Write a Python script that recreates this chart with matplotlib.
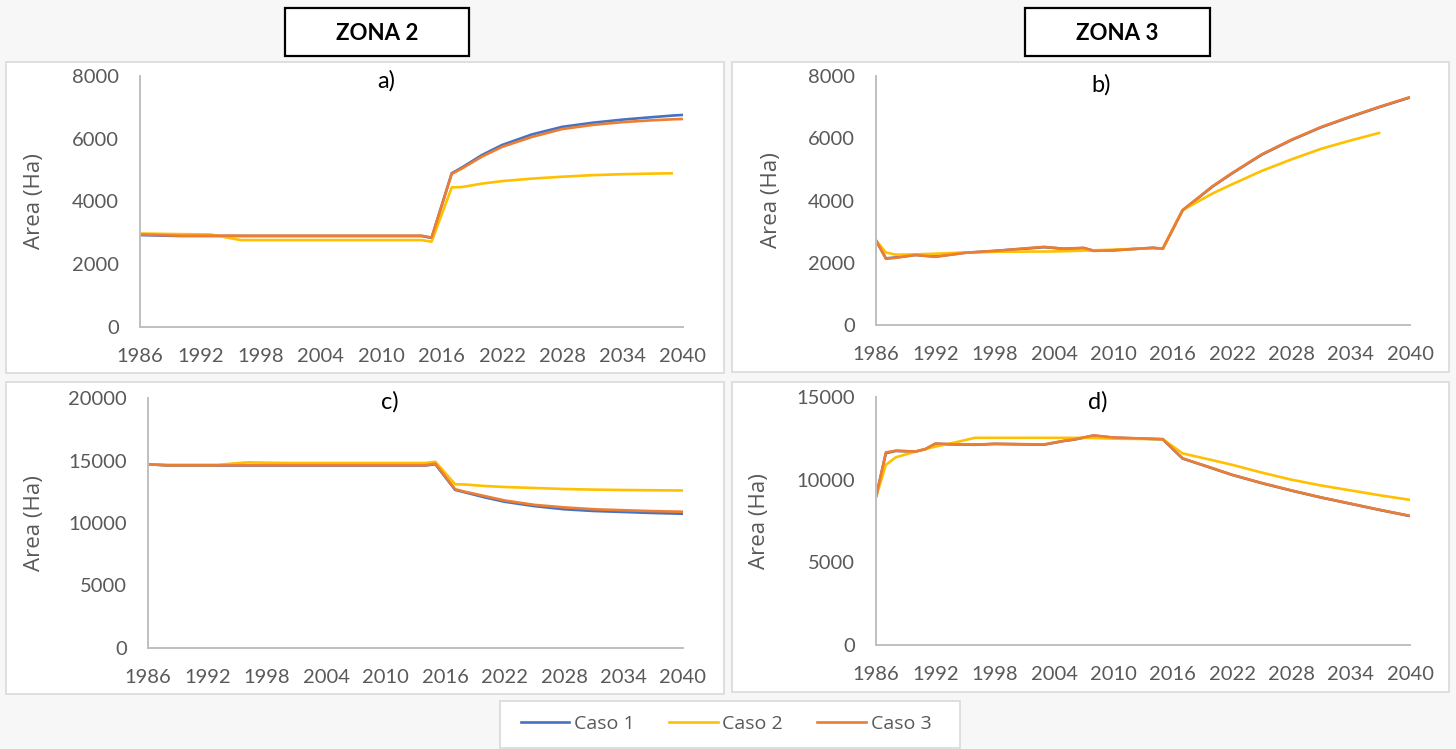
import numpy as np
import matplotlib
matplotlib.use("Agg")
import matplotlib.pyplot as plt
from matplotlib.patches import Rectangle
from matplotlib.lines import Line2D

nan = np.nan

# ---- data -------------------------------------------------------------
case_labels = ["Caso 1", "Caso 2", "Caso 3"]
case_colors = ["#4472C4", "#FFC000", "#ED7D31"]
zone_titles = ["ZONA 2", "ZONA 3"]
panel_tags = ["a)", "b)", "c)", "d)"]
x_ticks = [1986, 1992, 1998, 2004, 2010, 2016, 2022, 2028, 2034, 2040]

years_a = [1986, 1990, 1993, 1996, 2000, 2005, 2010, 2014, 2015, 2017, 2018,
           2020, 2022, 2025, 2028, 2031, 2034, 2037, 2039, 2040]
caso1_a = [2930, 2900, 2900, 2900, 2900, 2900, 2900, 2900, 2840, 4900, 5080,
           5480, 5800, 6140, 6380, 6510, 6610, 6690, 6740, 6760]
caso2_a = [2980, 2960, 2950, 2770, 2770, 2770, 2770, 2770, 2720, 4450, 4460,
           4570, 4650, 4730, 4790, 4840, 4870, 4890, 4900, nan]
caso3_a = [2950, 2910, 2910, 2910, 2910, 2910, 2910, 2910, 2850, 4880, 5050,
           5430, 5740, 6060, 6310, 6440, 6530, 6590, 6620, 6630]

years_b = [1986, 1987, 1988, 1990, 1992, 1995, 1998, 2001, 2003, 2005, 2007,
           2008, 2010, 2014, 2015, 2017, 2020, 2022, 2025, 2028, 2031, 2034,
           2037, 2040]
caso1_b = [2720, 2140, 2170, 2250, 2200, 2320, 2380, 2450, 2500, 2450, 2470,
           2390, 2400, 2480, 2450, 3680, 4440, 4870, 5470, 5940, 6350, 6690,
           7010, 7310]
caso2_b = [2720, 2330, 2260, 2270, 2290, 2330, 2350, 2360, 2360, 2370, 2390,
           2400, 2420, 2470, 2450, 3690, 4220, 4520, 4950, 5320, 5660, 5930,
           6180, nan]
caso3_b = [2720, 2130, 2160, 2250, 2190, 2320, 2380, 2460, 2510, 2450, 2480,
           2380, 2400, 2480, 2450, 3690, 4450, 4880, 5480, 5950, 6360, 6700,
           7020, 7320]

years_c = [1986, 1988, 1993, 1996, 2000, 2005, 2010, 2014, 2015, 2017, 2018,
           2020, 2022, 2025, 2028, 2031, 2034, 2037, 2040]
caso1_c = [14700, 14600, 14600, 14600, 14600, 14600, 14600, 14600, 14700,
           12650, 12450, 12050, 11700, 11350, 11100, 10960, 10880, 10800, 10740]
caso2_c = [14700, 14650, 14650, 14850, 14800, 14800, 14800, 14800, 14900,
           13100, 13080, 12960, 12880, 12800, 12720, 12670, 12640, 12620, 12600]
caso3_c = [14700, 14620, 14620, 14620, 14620, 14620, 14620, 14620, 14750,
           12700, 12500, 12150, 11800, 11450, 11250, 11100, 11020, 10950, 10900]

years_d = [1986, 1987, 1988, 1990, 1991, 1992, 1994, 1996, 1998, 2003, 2005,
           2006, 2008, 2010, 2015, 2017, 2020, 2022, 2025, 2028, 2031, 2034,
           2037, 2040]
caso1_d = [8950, 11600, 11740, 11700, 11850, 12170, 12130, 12110, 12160, 12120,
           12340, 12420, 12660, 12540, 12440, 11280, 10690, 10290, 9790, 9340,
           8920, 8540, 8160, 7800]
caso2_d = [8950, 10900, 11350, 11700, 11850, 12000, 12250, 12530, 12530, 12530,
           12530, 12530, 12520, 12480, 12450, 11590, 11180, 10900, 10430, 10000,
           9650, 9350, 9050, 8780]
caso3_d = [8950, 11650, 11750, 11700, 11850, 12180, 12140, 12120, 12170, 12130,
           12350, 12430, 12680, 12550, 12450, 11290, 10700, 10300, 9800, 9350,
           8930, 8550, 8170, 7810]

panels = [
    (years_a, [caso1_a, caso2_a, caso3_a], 8000, 2000),
    (years_b, [caso1_b, caso2_b, caso3_b], 8000, 2000),
    (years_c, [caso1_c, caso2_c, caso3_c], 20000, 5000),
    (years_d, [caso1_d, caso2_d, caso3_d], 15000, 5000),
]

# ---- layout (pixel units) ---------------------------------------------
W, H = 1456, 749
fig = plt.figure(figsize=(W / 100, H / 100), dpi=100, facecolor="#f7f7f7")

TICK_FONT = "Lato"
LABEL_FONT = "Open Sans"
GRAY = "#595959"


def fig_rect(x0, y0, x1, y1):
    return [x0 / W, 1 - y1 / H, (x1 - x0) / W, (y1 - y0) / H]


def add_box(x0, y0, x1, y1, face, edge, lw):
    r = Rectangle((x0 / W, 1 - y1 / H), (x1 - x0) / W, (y1 - y0) / H,
                  transform=fig.transFigure, facecolor=face, edgecolor=edge,
                  linewidth=lw, zorder=-1)
    fig.patches.append(r)


frames = [(6, 62, 724, 373), (732, 62, 1449, 372),
          (6, 382, 724, 694), (732, 382, 1449, 692)]
axes_px = [(140, 76, 683, 327), (876, 76, 1410, 325),
           (148, 398, 683, 648), (876, 397, 1410, 645)]
ylabel_x = [45, 782, 45, 770]
tag_pos = [(386, 81), (1101, 85), (390, 402), (1098, 402)]

for fr in frames:
    add_box(*fr, face="white", edge="#d9d9d9", lw=1.2)

for (years, series, ymax, ystep), (x0, y0, x1, y1), ylx, (tx, ty), tag in zip(
        panels, axes_px, ylabel_x, tag_pos, panel_tags):
    ax = fig.add_axes(fig_rect(x0, y0, x1, y1))
    ax.set_facecolor("none")
    for vals, color in zip(series, case_colors):
        ax.plot(years, vals, color=color, lw=1.9, solid_joinstyle="round",
                solid_capstyle="butt")
    ax.set_xlim(1986, 2040)
    ax.set_ylim(0, ymax)
    ax.set_xticks(x_ticks)
    ax.set_yticks(np.arange(0, ymax + 1, ystep))
    for s in ("top", "right"):
        ax.spines[s].set_visible(False)
    for s in ("left", "bottom"):
        ax.spines[s].set_color("#bfbfbf")
        ax.spines[s].set_linewidth(1.4)
    ax.tick_params(axis="both", length=0, colors=GRAY, labelsize=14.5)
    ax.tick_params(axis="y", pad=15)
    ax.tick_params(axis="x", pad=15)
    for lab in ax.get_xticklabels() + ax.get_yticklabels():
        lab.set_fontfamily(TICK_FONT)
    ax.set_ylabel("Area (Ha)", fontfamily=LABEL_FONT, fontsize=16, color=GRAY)
    ax.yaxis.set_label_coords((ylx - x0) / (x1 - x0), 0.5)
    fig.text(tx / W, 1 - ty / H, tag, fontfamily=TICK_FONT, fontsize=17,
             color="black", ha="center", va="center")

# zone header boxes
for (x0, x1), title in zip([(285, 469), (1025, 1210)], zone_titles):
    add_box(x0, 8, x1, 56, face="white", edge="black", lw=1.6)
    fig.text((x0 + x1) / 2 / W, 1 - 33 / H, title, fontfamily=TICK_FONT,
             fontweight="bold", fontsize=16, color="black",
             ha="center", va="center")

# shared legend
add_box(500, 701, 960, 748, face="white", edge="#d9d9d9", lw=1.2)
handles = [Line2D([], [], color=c, lw=1.9) for c in case_colors]
leg = fig.legend(handles, case_labels, loc="center",
                 bbox_to_anchor=(726 / W, 1 - 724 / H), ncol=3, frameon=False,
                 handlelength=2.5, handletextpad=0.25, columnspacing=1.75,
                 prop={"family": LABEL_FONT, "size": 14})
for t in leg.get_texts():
    t.set_color(GRAY)

fig.savefig("out.png", dpi=100, facecolor=fig.get_facecolor())
